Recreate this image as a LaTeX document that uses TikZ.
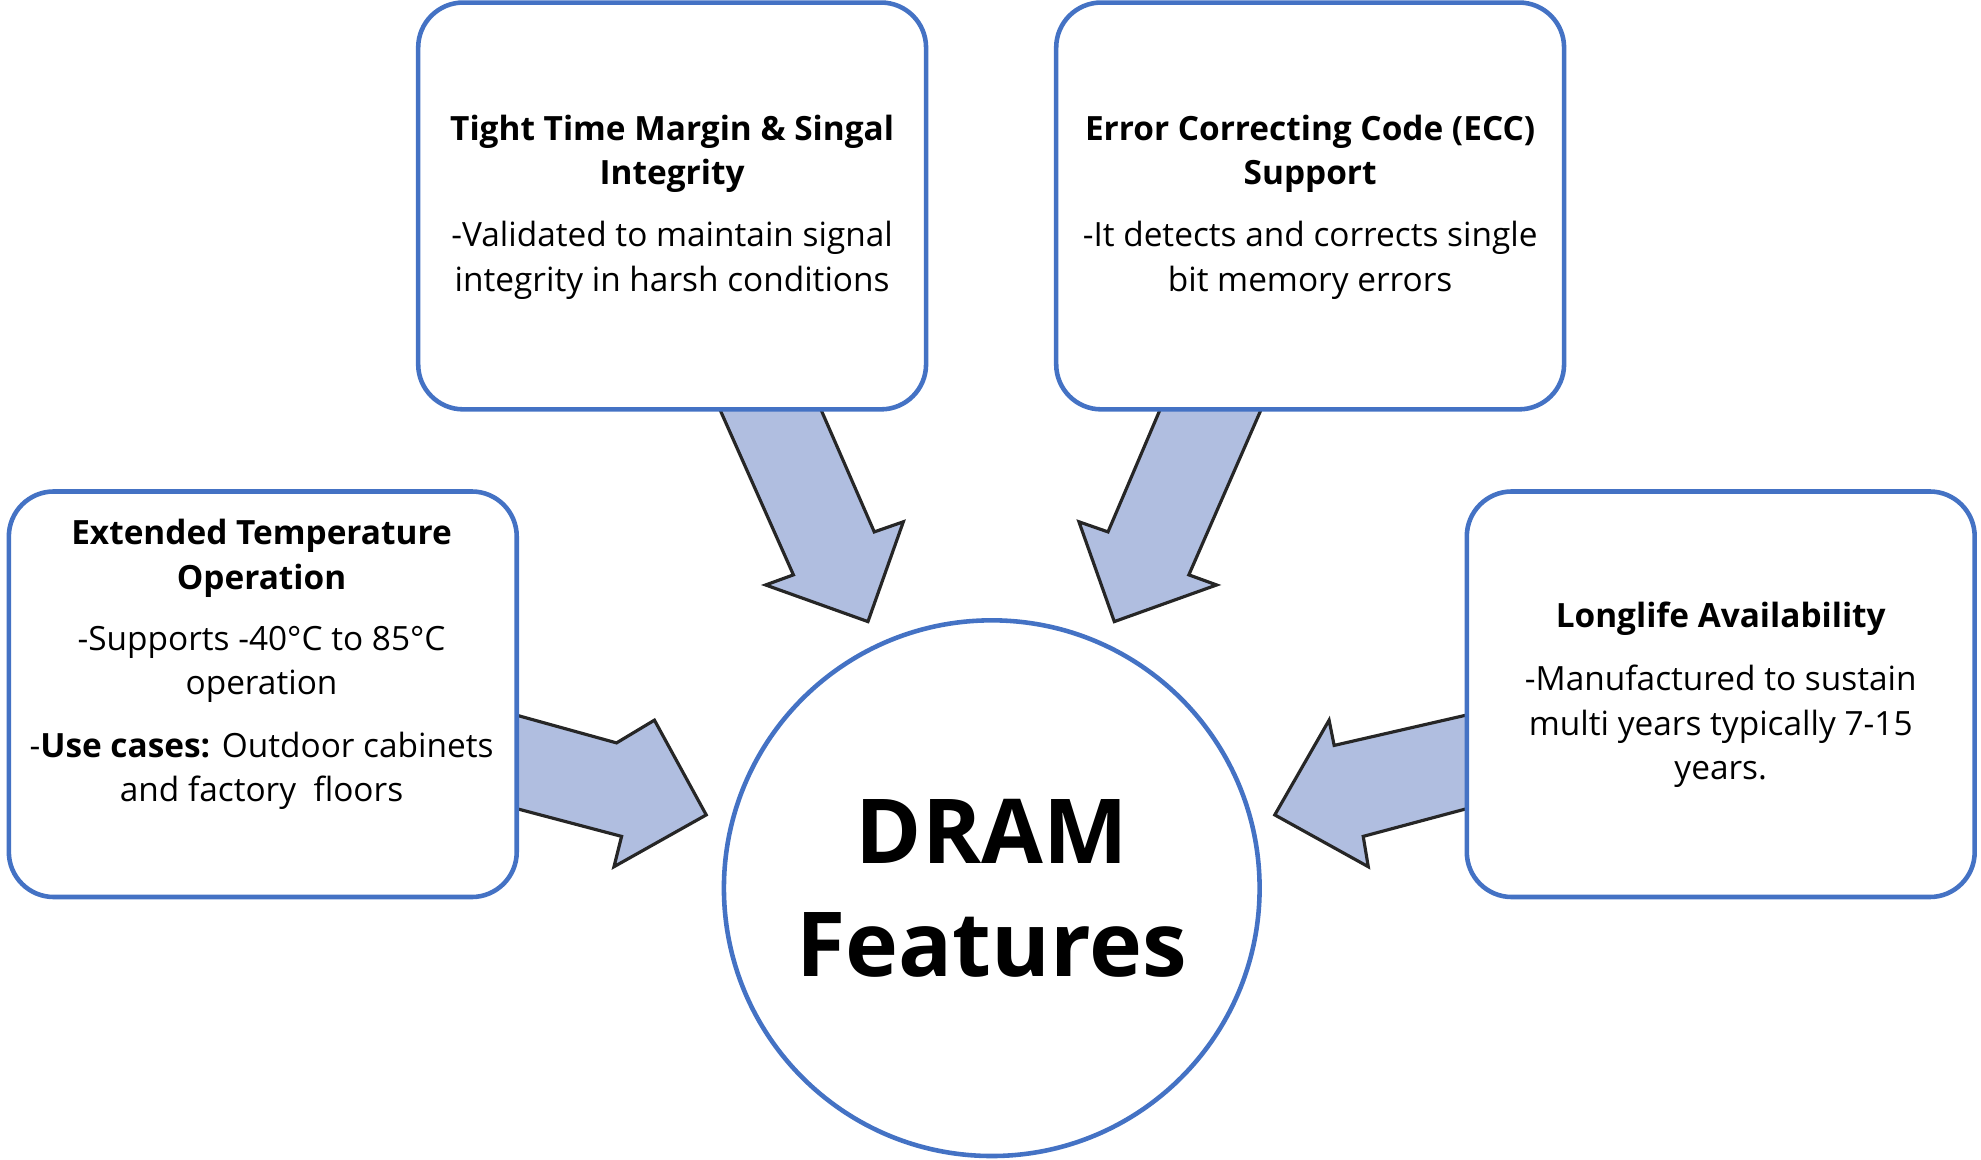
\documentclass[tikz,border=0pt]{standalone}
\usepackage{fontspec}
\setmainfont{Open Sans}
\begin{document}
\begin{tikzpicture}[x=0.012634cm,y=-0.012634cm,
  box/.style={draw=boxblue,line width=1.3pt,fill=white,rounded corners=0.45cm},
  arr/.style={fill=arrfill,draw=black!85,line width=0.9pt,line join=miter},
  txt/.style={align=center,font=\fontsize{9.5}{12.6}\selectfont,inner sep=0pt},
  ttl/.style={txt,font=\fontsize{9.5}{12.6}\selectfont\bfseries}]
\definecolor{boxblue}{HTML}{4472C4}
\definecolor{arrfill}{HTML}{B0BEE0}
\useasboundingbox (0,0) rectangle (1568,918);
% arrows
\draw[arr] (568,320) -- (648,320) -- (692,421) -- (715,413) -- (687,492) -- (606,463) -- (628,455) -- cycle;
\draw[arr] (920,320) -- (1000,320) -- (941,455) -- (963,463) -- (882,492) -- (854,413) -- (877,421) -- cycle;
\draw[arr] (405,565) -- (488,588) -- (518,570) -- (559,645) -- (486,686) -- (492,662) -- (405,639) -- cycle;
\draw[arr] (1165,565) -- (1056,590) -- (1052,570) -- (1009,645) -- (1083,686) -- (1079,662) -- (1165,639) -- cycle;
% boxes
\draw[box] (331,2) rectangle (733,324);
\draw[box] (836,2) rectangle (1238,324);
\draw[box] (7,389) rectangle (409,710);
\draw[box] (1161,389) rectangle (1563,710);
\node[draw=boxblue,line width=1.3pt,fill=white,circle,minimum size=424*0.012634cm] (c) at (785,703) {};
\node[align=center,font=\fontsize{25.5}{32}\selectfont\bfseries,inner sep=0pt] at (785,703) {DRAM\\Features};
% texts
\node[ttl] (t1) at (532,122) {Tight Time Margin \& Singal\\Integrity};
\node[txt] (b1) at (532,206) {-Validated to maintain signal\\integrity in harsh conditions};
\node[ttl] (t2) at (1037,122) {Error Correcting Code (ECC)\\Support};
\node[txt] (b2) at (1037,206) {-It detects and corrects single\\bit memory errors};
\node[ttl] (t3) at (207,442) {Extended Temperature\\Operation};
\node[txt] (b3) at (207,526) {-Supports -40°C to 85°C\\operation};
\node[txt] (b3b) at (207,610) {-\textbf{Use cases:} Outdoor cabinets\\and factory\ \ floors};
\node[ttl] (t4) at (1362,490) {Longlife Availability};
\node[txt] (b4) at (1362,575) {-Manufactured to sustain\\multi years typically 7-15\\years.};
\end{tikzpicture}
\end{document}
